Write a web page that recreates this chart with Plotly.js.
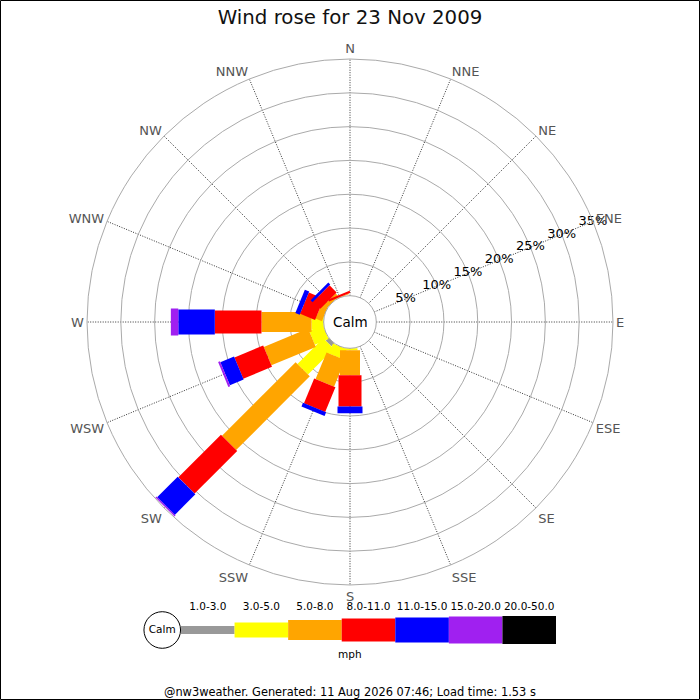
<!DOCTYPE html>
<html>
<head>
<meta charset="utf-8">
<script src="https://cdn.plot.ly/plotly-3.0.1.min.js"></script>
<style>
  body { margin: 0; background: #fff; }
  #chart { width: 700px; height: 700px; }
</style>
</head>
<body>
<div id="chart"></div>
<script>
// Direcciones (sentido horario desde el norte)
var directions = ['N', 'NNE', 'NE', 'ENE', 'E', 'ESE', 'SE', 'SSE',
                  'S', 'SSW', 'SW', 'WSW', 'W', 'WNW', 'NW', 'NNW'];

// Rangos de velocidad (mph)
var speedBins = ['1.0-3.0', '3.0-5.0', '5.0-8.0', '8.0-11.0', '11.0-15.0', '15.0-20.0', '20.0-50.0'];

// Porcentaje de tiempo por direccion y rango
var pct1to3   = [0, 0, 0, 0, 0, 0, 0, 0, 0,   0,    0.6,  0,   0,   0,   0,   0];
var pct3to5   = [0, 0, 0, 0, 0, 0, 0, 0, 0.3, 1.6,  5.4,  2.2, 1.8, 0,   0,   0];
var pct5to8   = [0, 0, 0, 0, 0, 0, 0, 0, 3.7, 4.25, 15.4, 7.1, 7.4, 1.0, 0.6, 0.1];
var pct8to11  = [0, 0, 0, 0, 0, 0, 0, 0, 4.6, 3.95, 8.9,  4.6, 6.9, 2.4, 1.5, 0.3];
var pct11to15 = [0, 0, 0, 0, 0, 0, 0, 0, 1.0, 0.6,  4.3,  2.2, 5.4, 0.7, 0.4, 0];
var pct15to20 = [0, 0, 0, 0, 0, 0, 0, 0, 0,   0,    0.2,  0.3, 1.1, 0,   0,   0];
var pct20to50 = [0, 0, 0, 0, 0, 0, 0, 0, 0,   0,    0,    0,   0,   0,   0,   0];

// Marcas del eje radial
var radialTicks = [5, 10, 15, 20, 25, 30, 35];
var radialTickText = ['5%', '10%', '15%', '20%', '25%', '30%', '35%'];

var series = [pct1to3, pct3to5, pct5to8, pct8to11, pct11to15, pct15to20, pct20to50];
var colors = ['#999999', '#ffff00', '#ffa500', '#ff0000', '#0000ff', '#a020f0', '#000000'];
var widths = [8, 15, 20, 23, 25, 27, 28]; // ancho de barra por rango (px)

var font = 'DejaVu Sans, Arial, sans-serif';
var data = [];

// Barras apiladas: cada tramo es una linea gruesa radial de base a tope
var base = directions.map(function () { return 0; });
series.forEach(function (vals, k) {
    var th = [], rr = [];
    directions.forEach(function (d, i) {
        th.push(d, d, d);
        rr.push(base[i], base[i] + vals[i], null);
        base[i] += vals[i];
    });
    data.push({
        type: 'scatterpolar',
        mode: 'lines',
        theta: th,
        r: rr,
        line: { color: colors[k], width: widths[k] },
        connectgaps: false,
        hoverinfo: 'skip',
        showlegend: false
    });
});

// Etiquetas del eje radial sobre el radio ENE
data.push({
    type: 'scatterpolar',
    mode: 'text',
    theta: radialTicks.map(function () { return 'ENE'; }),
    r: radialTicks,
    text: radialTickText,
    textposition: 'middle center',
    textfont: { family: font, size: 13, color: '#000' },
    cliponaxis: false,
    hoverinfo: 'skip',
    showlegend: false
});

// Leyenda propia: un tramo por rango
speedBins.forEach(function (b, k) {
    data.push({
        type: 'scatter',
        mode: 'lines',
        x: [k, k + 1],
        y: [0, 0],
        line: { color: colors[k], width: widths[k] },
        hoverinfo: 'skip',
        showlegend: false
    });
});
data.push({
    type: 'scatter',
    mode: 'text',
    x: speedBins.map(function (b, k) { return k + 0.5; }),
    y: speedBins.map(function () { return 0.77; }),
    text: speedBins,
    textposition: 'middle center',
    textfont: { family: font, size: 10.5, color: '#000' },
    cliponaxis: false,
    hoverinfo: 'skip',
    showlegend: false
});
data.push({
    type: 'scatter',
    mode: 'markers+text',
    x: [-0.35],
    y: [0],
    text: ['Calm'],
    textposition: 'middle center',
    textfont: { family: font, size: 10.5, color: '#000' },
    marker: { size: 36.6, color: '#fff', line: { color: '#000', width: 1 } },
    cliponaxis: false,
    hoverinfo: 'skip',
    showlegend: false
});

var layout = {
    width: 700,
    height: 700,
    margin: { l: 0, r: 0, t: 0, b: 0 },
    paper_bgcolor: '#fff',
    plot_bgcolor: 'rgba(0,0,0,0)',
    title: {
        text: 'Wind rose for 23 Nov 2009',
        x: 0.5,
        y: 0.9757,
        xanchor: 'center',
        yanchor: 'middle',
        font: { family: font, size: 19.8, color: '#111' }
    },
    polar: {
        domain: { x: [0.12429, 0.87571], y: [0.16429, 0.91571] },
        hole: 0.1,
        bgcolor: '#fff',
        radialaxis: {
            range: [0, 35],
            tickvals: radialTicks,
            showticklabels: false,
            ticks: '',
            showline: false,
            gridcolor: '#aaaaaa',
            gridwidth: 1
        },
        angularaxis: {
            type: 'category',
            categoryorder: 'array',
            categoryarray: directions,
            direction: 'clockwise',
            rotation: 90,
            showline: true,
            linecolor: '#aaaaaa',
            ticks: '',
            gridcolor: '#333333',
            griddash: '1px,1.5px',
            tickfont: { family: font, size: 13, color: '#555' }
        }
    },
    xaxis: {
        domain: [0.205, 0.7943],
        range: [-0.7, 7],
        visible: false,
        fixedrange: true
    },
    yaxis: {
        domain: [0.0571, 0.1429],
        range: [-1, 1],
        visible: false,
        fixedrange: true
    },
    annotations: [
        {
            text: 'Calm', xref: 'paper', yref: 'paper', x: 0.5, y: 1 - 322 / 700,
            xanchor: 'center', yanchor: 'middle', showarrow: false,
            font: { family: font, size: 13.5, color: '#000' }
        },
        {
            text: 'mph', xref: 'paper', yref: 'paper', x: 0.5, y: 1 - 654 / 700,
            xanchor: 'center', yanchor: 'middle', showarrow: false,
            font: { family: font, size: 10.5, color: '#000' }
        },
        {
            text: '@nw3weather. Generated: 11 Aug 2026 07:46; Load time: 1.53 s',
            xref: 'paper', yref: 'paper', x: 0.5, y: 1 - 692 / 700,
            xanchor: 'center', yanchor: 'middle', showarrow: false,
            font: { family: font, size: 11.4, color: '#000' }
        }
    ],
    shapes: [
        {
            type: 'rect', xref: 'paper', yref: 'paper',
            x0: 0.5 / 700, x1: 1 - 0.5 / 700, y0: 0.5 / 700, y1: 1 - 0.5 / 700,
            line: { color: '#000', width: 1 }
        }
    ]
};

var config = { displayModeBar: false, staticPlot: true };

Plotly.newPlot('chart', data, layout, config);
</script>
</body>
</html>
